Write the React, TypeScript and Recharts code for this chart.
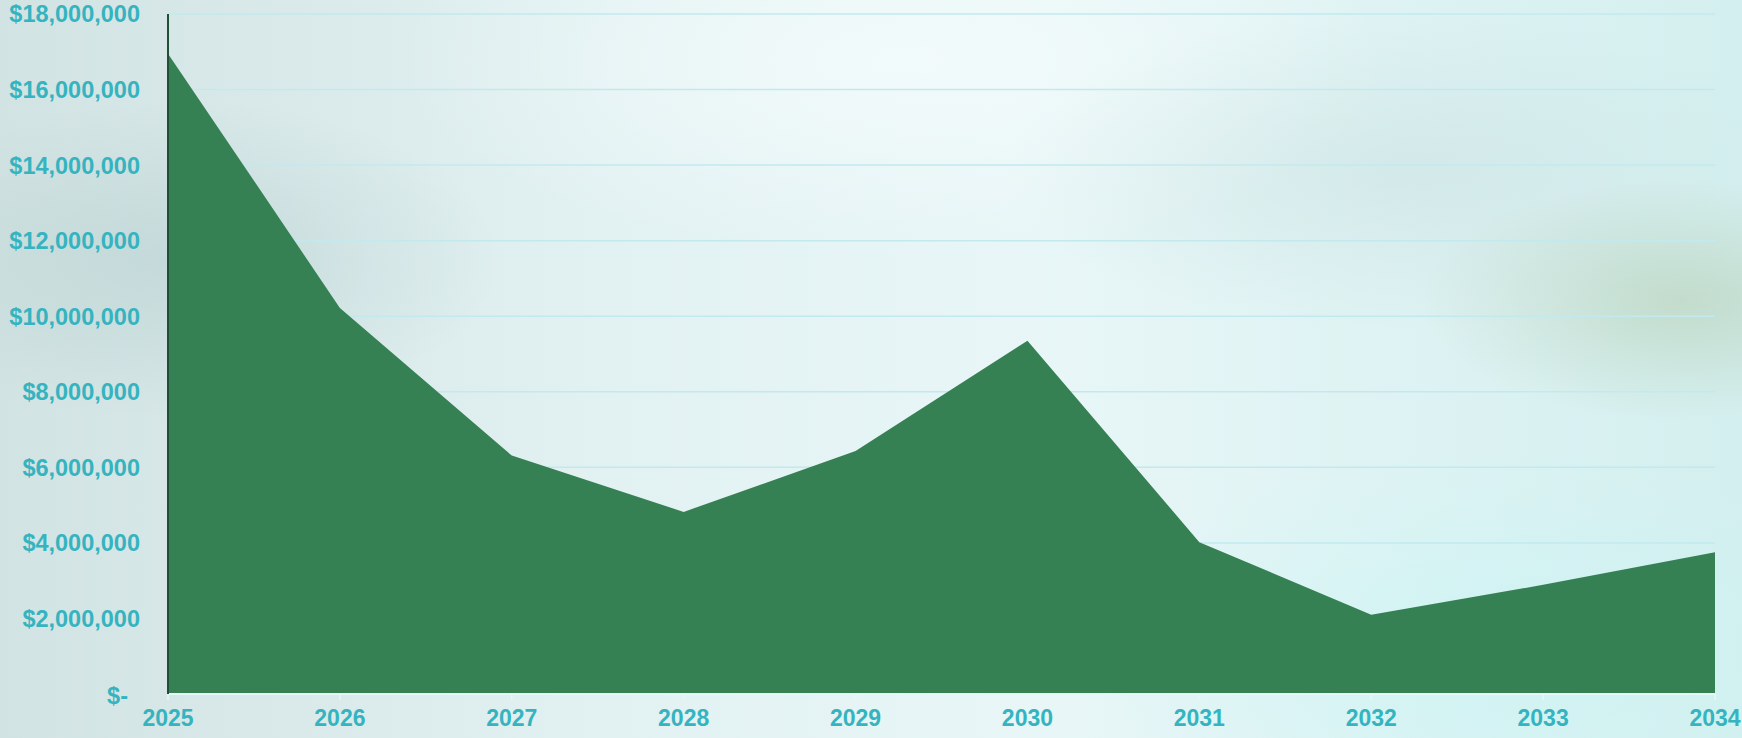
import React from 'react';
import { AreaChart, Area, XAxis, YAxis, CartesianGrid } from 'recharts';

const years = ['2025', '2026', '2027', '2028', '2029', '2030', '2031', '2032', '2033', '2034'];
const values = [16950000, 10220000, 6310000, 4820000, 6430000, 9350000, 4020000, 2100000, 2890000, 3750000];
const yTicks = [0, 2000000, 4000000, 6000000, 8000000, 10000000, 12000000, 14000000, 16000000, 18000000];

const data = years.map((y, i) => ({ year: y, value: values[i] }));

const labelColor = '#35b4c0';
const font = '"Liberation Sans", Arial, sans-serif';

const fmt = (v: number) => (v === 0 ? '$-' : '$' + v.toLocaleString('en-US'));

const YTick = (props: any) => {
  const { x, y, payload } = props;
  const v = payload.value as number;
  return (
    <text
      x={v === 0 ? x - 12 : x}
      y={v === 0 ? y + 2 : y}
      dy="0.36em"
      textAnchor="end"
      fill={labelColor}
      fontFamily={font}
      fontWeight="bold"
      fontSize={23.5}
    >
      {fmt(v)}
    </text>
  );
};

export default function App() {
  const bg =
    'radial-gradient(ellipse 320px 160px at 180px 260px, rgba(160,190,190,0.35), rgba(160,190,190,0) 100%),' +
    'radial-gradient(ellipse 260px 120px at 1680px 300px, rgba(170,195,160,0.45), rgba(170,195,160,0) 100%),' +
    'radial-gradient(ellipse 400px 160px at 1400px 170px, rgba(195,218,218,0.4), rgba(195,218,218,0) 100%),' +
    'radial-gradient(ellipse 500px 200px at 900px 60px, rgba(245,252,252,0.8), rgba(245,252,252,0) 100%),' +
    'radial-gradient(ellipse 400px 200px at 1500px 650px, rgba(200,245,245,0.6), rgba(200,245,245,0) 100%),' +
    'linear-gradient(90deg, #d2e3e3 0%, #e2f1f2 35%, #e8f6f7 60%, #d4efef 100%)';
  return (
    <div style={{ position: 'absolute', left: 0, top: 0, width: 1742, height: 738, background: bg, overflow: 'hidden' }}>
      <AreaChart
        width={1742}
        height={738}
        data={data}
        margin={{ top: 14, right: 27, bottom: 14, left: 0 }}
      >
        <CartesianGrid vertical={false} stroke="#c2eaee" strokeWidth={1.5} />
        <XAxis
          dataKey="year"
          height={30}
          axisLine={{ stroke: '#e6f7f7', strokeWidth: 2 }}
          tickLine={{ stroke: '#e6f7f7', strokeWidth: 1.5 }}
          tickSize={6}
          tickMargin={10}
          interval={0}
          tick={{ fill: labelColor, fontFamily: font, fontWeight: 'bold', fontSize: 23 }}
        />
        <YAxis
          width={168}
          domain={[0, 18000000]}
          ticks={yTicks}
          interval={0}
          axisLine={{ stroke: '#1f4f36', strokeWidth: 2 }}
          tickLine={false}
          tickSize={0}
          tickMargin={28}
          tick={<YTick />}
        />
        <Area
          type="linear"
          dataKey="value"
          stroke="none"
          fill="#358153"
          fillOpacity={1}
          isAnimationActive={false}
        />
      </AreaChart>
    </div>
  );
}
